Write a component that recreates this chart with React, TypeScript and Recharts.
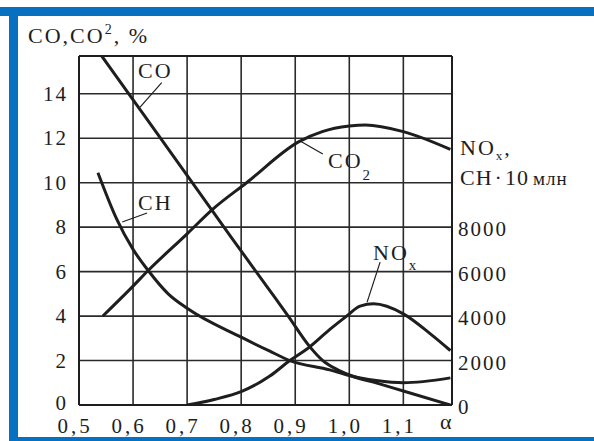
import React from 'react';
import {
  CartesianGrid,
  ComposedChart,
  Line,
  ReferenceLine,
  XAxis,
  YAxis,
} from 'recharts';

// alpha (excess air ratio) points
const coAlpha = [0.542, 0.62, 0.7, 0.78, 0.85, 0.887, 0.926, 0.951, 0.977, 1.0, 1.056, 1.1, 1.187];
const coValues = [15.7, 13.05, 10.33, 7.6, 5.25, 4.0, 2.65, 2.0, 1.6, 1.35, 0.95, 0.63, 0];

const co2Alpha = [0.544, 0.6, 0.628, 0.7, 0.747, 0.81, 0.907, 0.95, 1.0, 1.03, 1.1, 1.187];
const co2Values = [4.0, 5.35, 6.05, 7.7, 8.8, 10.0, 11.85, 12.3, 12.55, 12.6, 12.3, 11.5];

const chAlpha = [0.535, 0.57, 0.6, 0.628, 0.665, 0.7, 0.8, 0.853, 0.89, 0.964, 1.0, 1.05, 1.1, 1.187];
const chValues = [10450, 8350, 7000, 6050, 5000, 4350, 3050, 2420, 2000, 1580, 1320, 1100, 1000, 1220];

const noxAlpha = [0.7, 0.75, 0.8, 0.853, 0.89, 0.926, 0.964, 0.995, 1.02, 1.045, 1.1, 1.15, 1.187];
const noxValues = [0, 250, 600, 1300, 2000, 2600, 3400, 4000, 4450, 4550, 4100, 3200, 2450];

const xTicks = [0.5, 0.6, 0.7, 0.8, 0.9, 1.0, 1.1];
const leftTicks = [0, 2, 4, 6, 8, 10, 12, 14];
const rightTicks = [0, 2000, 4000, 6000, 8000];

const zip = (xs: number[], ys: number[]) => xs.map((a, i) => ({ a, v: ys[i] }));

const coData = zip(coAlpha, coValues);
const co2Data = zip(co2Alpha, co2Values);
const chData = zip(chAlpha, chValues);
const noxData = zip(noxAlpha, noxValues);

const INK = '#1e1e1e';
const FONT = '"Liberation Serif", "Times New Roman", serif';
const BLUE = '#0870c0';

const LeftTick = ({ x, y, payload }: any) => (
  <text x={x} y={y} dy={payload.value === 0 ? 5 : 7} textAnchor="end" fontFamily={FONT} fontSize={21} letterSpacing={2} fill={INK}>
    {payload.value}
  </text>
);

const RightTick = ({ x, y, payload }: any) => (
  <text x={x} y={y} dy={9} textAnchor="start" fontFamily={FONT} fontSize={21} letterSpacing={2} fill={INK}>
    {payload.value}
  </text>
);

const BottomTick = ({ x, y, payload }: any) => (
  <text x={x} y={y} dx={-4} dy={28} textAnchor="middle" fontFamily={FONT} fontSize={21} letterSpacing={3} fill={INK}>
    {payload.value.toFixed(1).replace('.', ',')}
  </text>
);

const lineProps = {
  type: 'monotone' as const,
  dataKey: 'v',
  stroke: INK,
  strokeWidth: 3,
  dot: false,
  activeDot: false,
  isAnimationActive: false,
};

export default function App() {
  return (
    <div style={{ position: 'absolute', left: 0, top: 0, width: 594, height: 441, background: '#fff' }}>
      <ComposedChart
        width={594}
        height={441}
        margin={{ top: 56, right: 0, bottom: 0, left: 0 }}
      >
        <CartesianGrid
          yAxisId="left"
          stroke="#2a2a2a"
          strokeWidth={1.6}
          horizontalValues={leftTicks}
          verticalValues={xTicks}
        />
        <XAxis
          dataKey="a"
          type="number"
          domain={[0.5, 1.19]}
          ticks={xTicks}
          allowDataOverflow
          height={36}
          tickSize={0}
          tickMargin={0}
          tickLine={false}
          axisLine={{ stroke: INK, strokeWidth: 2 }}
          tick={<BottomTick />}
        />
        <YAxis
          yAxisId="left"
          type="number"
          domain={[0, 15.7]}
          ticks={leftTicks}
          allowDataOverflow
          width={79}
          tickSize={0}
          tickMargin={11}
          tickLine={false}
          axisLine={{ stroke: INK, strokeWidth: 2 }}
          tick={<LeftTick />}
        />
        <YAxis
          yAxisId="right"
          orientation="right"
          type="number"
          domain={[0, 15700]}
          ticks={rightTicks}
          allowDataOverflow
          width={142}
          tickSize={0}
          tickMargin={6}
          tickLine={false}
          axisLine={{ stroke: INK, strokeWidth: 2 }}
          tick={<RightTick />}
        />
        <ReferenceLine yAxisId="left" y={15.7} stroke={INK} strokeWidth={2} />

        <Line {...lineProps} yAxisId="left" data={coData} name="CO" />
        <Line {...lineProps} yAxisId="left" data={co2Data} name="CO2" />
        <Line {...lineProps} yAxisId="right" data={chData} name="CH" />
        <Line {...lineProps} yAxisId="right" data={noxData} name="NOx" />

        {/* leader lines from labels to curves */}
        <ReferenceLine yAxisId="left" segment={[{ x: 0.653, y: 14.5 }, { x: 0.613, y: 13.4 }]} stroke={INK} strokeWidth={1.2} />
        <ReferenceLine yAxisId="left" segment={[{ x: 0.626, y: 8.64 }, { x: 0.58, y: 8.23 }]} stroke={INK} strokeWidth={1.2} />
        <ReferenceLine yAxisId="left" segment={[{ x: 0.909, y: 11.88 }, { x: 0.951, y: 11.29 }]} stroke={INK} strokeWidth={1.2} />
        <ReferenceLine yAxisId="left" segment={[{ x: 1.057, y: 6.43 }, { x: 1.033, y: 4.63 }]} stroke={INK} strokeWidth={1.2} />
      </ComposedChart>

      <svg
        width={594}
        height={441}
        style={{ position: 'absolute', left: 0, top: 0, pointerEvents: 'none' }}
        fontFamily={FONT}
        fill={INK}
      >
        <rect x={0} y={7} width={594} height={9} fill={BLUE} />
        <rect x={9} y={7} width={9} height={434} fill={BLUE} />
        <rect x={9} y={437} width={585} height={4} fill={BLUE} />

        <text x={28} y={43} fontSize={22} letterSpacing={2}>
          CO,CO<tspan fontSize={14} dy={-9}>2</tspan><tspan dy={9}>, %</tspan>
        </text>

        <text x={138} y={78} fontSize={22} letterSpacing={2}>CO</text>
        <text x={138} y={210} fontSize={22} letterSpacing={2}>CH</text>
        <text x={328} y={168} fontSize={22} letterSpacing={2}>
          CO<tspan fontSize={15} dy={12}>2</tspan>
        </text>
        <text x={373} y={260} fontSize={22} letterSpacing={2}>
          NO<tspan fontSize={15} dy={10}>x</tspan>
        </text>

        <text x={460} y={155} fontSize={22} letterSpacing={2}>
          NO<tspan fontSize={13} dy={5}>x</tspan><tspan dy={-5}>,</tspan>
        </text>
        <text x={460} y={185} fontSize={22} letterSpacing={1}>
          CH<tspan dx={2}>·</tspan><tspan dx={2}>10</tspan><tspan dx={4} fontSize={19}>млн</tspan>
        </text>

        <text x={440} y={429} fontSize={22}>α</text>
      </svg>
    </div>
  );
}
